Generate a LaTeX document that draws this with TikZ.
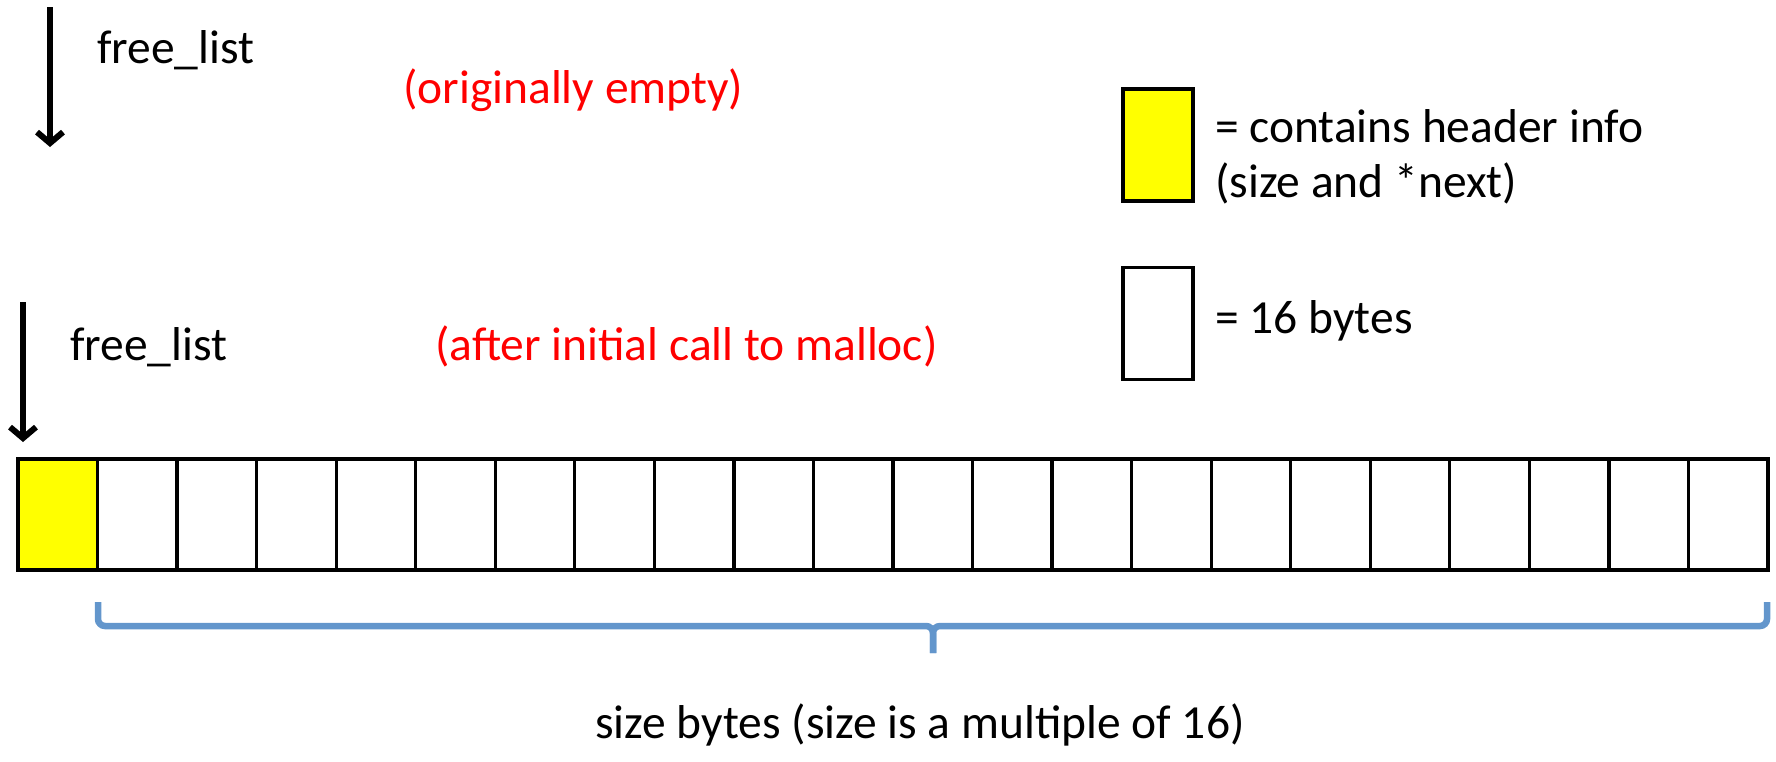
\documentclass[tikz,border=0pt]{standalone}
\usepackage{fontspec}
\setmainfont{Carlito}
\usetikzlibrary{arrows.meta}
\definecolor{bracecol}{RGB}{99,150,204}
\definecolor{hdryellow}{RGB}{255,255,0}
\definecolor{notered}{RGB}{255,0,0}
\begin{document}
\begin{tikzpicture}[x=1pt,y=-1pt,
  every node/.style={font=\fontsize{47.5}{56}\selectfont},
  cellbox/.style={draw=black, line width=3.2pt, minimum width=79.55pt, minimum height=111pt, inner sep=0pt, outer sep=0pt, fill=white},
  hdrbox/.style={cellbox, fill=hdryellow},
  legbox/.style={draw=black, line width=3.2pt, minimum width=70pt, minimum height=112pt, inner sep=0pt, outer sep=0pt},
  lbl/.style={anchor=base west, inner sep=0pt, text=black},
  note/.style={anchor=base west, inner sep=0pt, text=notered},
  ptr/.style={line width=6pt, -{Straight Barb[length=11pt, width=26pt]}},
  bracestyle/.style={draw=bracecol, line width=6.5pt, rounded corners=7pt}
]
\useasboundingbox (0,0) rectangle (1776,761);

% top: originally empty
\coordinate (p1s) at (50,7);
\coordinate (p1e) at (50,147);
\draw[ptr] (p1s) -- (p1e);
\node[lbl] (fl1) at (97,63) {free\_list};
\node[note] (n1) at (403,103) {(originally empty)};

% after malloc
\coordinate (p2s) at (23,302);
\coordinate (p2e) at (23,442);
\draw[ptr] (p2s) -- (p2e);
\node[lbl] (fl2) at (70,360) {free\_list};
\node[note] (n2) at (435,360) {(after initial call to malloc)};

% cells
\node[hdrbox] (c0) at (57.77,514.5) {};
\foreach \i in {1,...,21}{
  \node[cellbox] (c\i) at ({18+79.545*\i+39.77},514.5) {};
}

% brace
\coordinate (bl) at (98,602);
\coordinate (br) at (1767,602);
\coordinate (bm) at (933,626);
\coordinate (bt) at (933,653);
\draw[bracestyle] (bl) -- (98,626) -- (bm) -- (bt);
\draw[bracestyle] (br) -- (1767,626) -- (bm) -- (bt);
\node[anchor=base, inner sep=0pt] (sz) at (920,738) {size bytes (size is a multiple of 16)};

% legend
\node[legbox, fill=hdryellow] (ly) at (1158,145) {};
\node[lbl] (lt1) at (1215,142) {= contains header info};
\node[lbl] (lt2) at (1215,197) {(size and *next)};
\node[legbox, fill=white] (lw) at (1158,323.5) {};
\node[lbl] (lt3) at (1215,333) {= 16 bytes};
\end{tikzpicture}
\end{document}
